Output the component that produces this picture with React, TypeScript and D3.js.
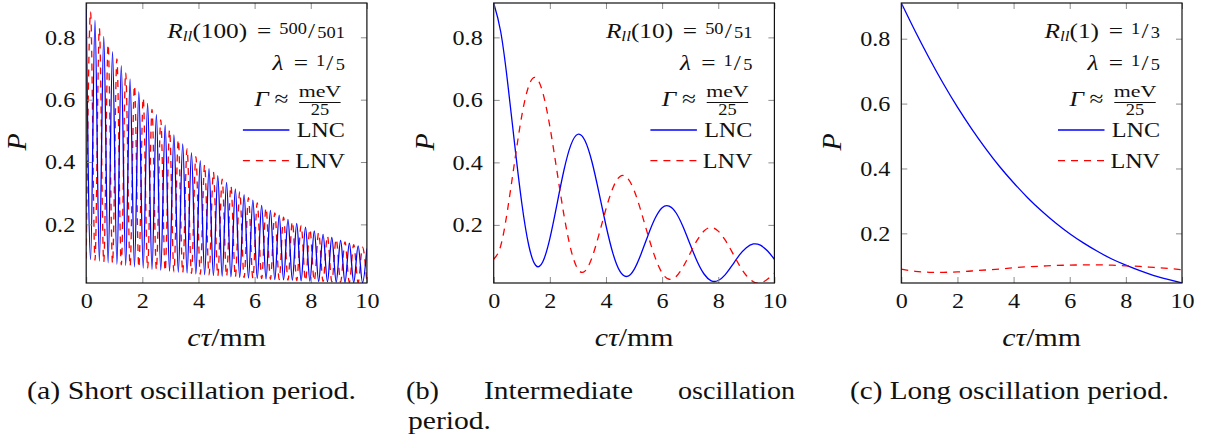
import { useEffect, useRef } from "react";
import * as d3 from "d3";

// ---- values ----
const xTicks = [0, 2, 4, 6, 8, 10];
const yTicks = [0.2, 0.4, 0.6, 0.8];

// (a) short period: turning points of the fast oscillation
const xA = [
  0, 0.156, 0.313, 0.469, 0.625, 0.781, 0.938, 1.094, 1.25, 1.406, 1.563,
  1.719, 1.875, 2.031, 2.188, 2.344, 2.5, 2.656, 2.813, 2.969, 3.125, 3.281,
  3.438, 3.594, 3.75, 3.906, 4.063, 4.219, 4.375, 4.531, 4.688, 4.844, 5.0,
  5.156, 5.313, 5.469, 5.625, 5.781, 5.938, 6.094, 6.25, 6.406, 6.563, 6.719,
  6.875, 7.031, 7.188, 7.344, 7.5, 7.656, 7.813, 7.969, 8.125, 8.281, 8.438,
  8.594, 8.75, 8.906, 9.063, 9.219, 9.375, 9.531, 9.688, 9.844, 10,
];
const lncA = [
  0.91, 0.087, 0.855, 0.082, 0.803, 0.077, 0.754, 0.072, 0.709, 0.068, 0.666,
  0.064, 0.625, 0.06, 0.588, 0.056, 0.552, 0.053, 0.518, 0.05, 0.487, 0.047,
  0.458, 0.044, 0.43, 0.041, 0.404, 0.039, 0.379, 0.036, 0.356, 0.034, 0.335,
  0.032, 0.314, 0.03, 0.295, 0.028, 0.278, 0.027, 0.261, 0.025, 0.245, 0.023,
  0.23, 0.022, 0.216, 0.021, 0.203, 0.019, 0.191, 0.018, 0.179, 0.017, 0.168,
  0.016, 0.158, 0.015, 0.149, 0.014, 0.14, 0.013, 0.131, 0.013, 0.123,
];
const lnvA = [
  0.09, 0.882, 0.085, 0.829, 0.079, 0.778, 0.075, 0.731, 0.07, 0.687, 0.066,
  0.645, 0.062, 0.606, 0.058, 0.569, 0.055, 0.535, 0.051, 0.503, 0.048, 0.472,
  0.045, 0.443, 0.043, 0.417, 0.04, 0.391, 0.038, 0.368, 0.035, 0.345, 0.033,
  0.324, 0.031, 0.305, 0.029, 0.286, 0.027, 0.269, 0.026, 0.253, 0.024, 0.237,
  0.023, 0.223, 0.021, 0.209, 0.02, 0.197, 0.019, 0.185, 0.018, 0.174, 0.017,
  0.163, 0.016, 0.153, 0.015, 0.144, 0.014, 0.135, 0.013, 0.127, 0.012,
];

// (b) intermediate period, every 0.25 mm
const xB = [
  0, 0.25, 0.5, 0.75, 1, 1.25, 1.5, 1.75, 2, 2.25, 2.5, 2.75, 3, 3.25, 3.5,
  3.75, 4, 4.25, 4.5, 4.75, 5, 5.25, 5.5, 5.75, 6, 6.25, 6.5, 6.75, 7, 7.25,
  7.5, 7.75, 8, 8.25, 8.5, 8.75, 9, 9.25, 9.5, 9.75, 10,
];
const lncB = [
  0.91, 0.818, 0.653, 0.455, 0.27, 0.134, 0.07, 0.082, 0.156, 0.264, 0.374,
  0.456, 0.49, 0.47, 0.402, 0.303, 0.198, 0.108, 0.051, 0.035, 0.057, 0.107,
  0.167, 0.221, 0.255, 0.26, 0.238, 0.193, 0.137, 0.083, 0.042, 0.021, 0.022,
  0.041, 0.071, 0.103, 0.127, 0.139, 0.135, 0.117, 0.09,
];
const lnvB = [
  0.09, 0.133, 0.252, 0.405, 0.549, 0.645, 0.671, 0.623, 0.515, 0.374, 0.233,
  0.121, 0.058, 0.052, 0.095, 0.169, 0.251, 0.319, 0.355, 0.351, 0.311, 0.243,
  0.166, 0.096, 0.046, 0.026, 0.035, 0.066, 0.109, 0.151, 0.181, 0.192, 0.18,
  0.151, 0.112, 0.071, 0.038, 0.018, 0.014, 0.026, 0.045,
];

// (c) long period, every 0.5 mm
const xC = [
  0, 0.5, 1, 1.5, 2, 2.5, 3, 3.5, 4, 4.5, 5, 5.5, 6, 6.5, 7, 7.5, 8, 8.5, 9,
  9.5, 10,
];
const lncC = [
  0.91, 0.822, 0.739, 0.661, 0.589, 0.523, 0.462, 0.406, 0.356, 0.31, 0.269,
  0.232, 0.199, 0.17, 0.144, 0.121, 0.102, 0.085, 0.07, 0.058, 0.047,
];
const lnvC = [
  0.09, 0.083, 0.08, 0.08, 0.081, 0.084, 0.087, 0.09, 0.094, 0.097, 0.099,
  0.101, 0.102, 0.103, 0.103, 0.102, 0.1, 0.098, 0.095, 0.092, 0.088,
];

const rArgs = ["100", "10", "1"];
const rNums = ["500", "50", "1"];
const rDens = ["501", "51", "3"];
const seriesNames = ["LNC", "LNV"];
const captions = [
  ["(a) Short oscillation period."],
  ["(b)", "Intermediate", "oscillation", "period."],
  ["(c) Long oscillation period."],
];

// ---- layout ----
const FONT = "'Liberation Serif', 'Times New Roman', serif";
const panelLeft = [86.2, 493.7, 901.3];
const plotW = 280.7;
const plotTop = 3;
const plotH = 280;
const blue = "#0000ff";
const red = "#ff0000";
const ink = "#111";
const tickColor = "#8c8c8c";
const sx = 1.15; // the reference glyphs are wider than Times

const panels = [
  { xs: xA, lnc: lncA, lnv: lnvA, curve: d3.curveMonotoneX, blueOnTop: true },
  { xs: xB, lnc: lncB, lnv: lnvB, curve: d3.curveNatural, blueOnTop: false },
  { xs: xC, lnc: lncC, lnv: lnvC, curve: d3.curveNatural, blueOnTop: false },
];

// small raised numerator, slash, small denominator
function nicefrac(text, num, den, dx) {
  text.append("tspan").attr("font-size", 16).attr("dx", dx).attr("dy", -4).text(num);
  text.append("tspan").attr("font-size", 22).attr("dx", 1).attr("dy", 4).text("/");
  text.append("tspan").attr("font-size", 16).attr("dx", 2).text(den);
}

function drawPanel(svg, p, i) {
  const g = svg
    .append("g")
    .attr("transform", `translate(${panelLeft[i]},${plotTop})`);

  const x = d3.scaleLinear().domain([0, 10]).range([0, plotW]);
  const y = d3
    .scaleLinear()
    .domain(d3.extent(p.lnc.concat(p.lnv)))
    .range([plotH, 0]);

  g.append("clipPath")
    .attr("id", "clip" + i)
    .append("rect")
    .attr("width", plotW)
    .attr("height", plotH);

  const line = d3
    .line()
    .x((d, k) => x(p.xs[k]))
    .y((d) => y(d))
    .curve(p.curve);

  const content = g.append("g").attr("clip-path", `url(#clip${i})`);
  const drawLnc = () =>
    content
      .append("path")
      .attr("d", line(p.lnc))
      .attr("fill", "none")
      .attr("stroke", blue)
      .attr("stroke-width", 1.3);
  const drawLnv = () =>
    content
      .append("path")
      .attr("d", line(p.lnv))
      .attr("fill", "none")
      .attr("stroke", red)
      .attr("stroke-width", 1.3)
      .attr("stroke-dasharray", "7 6");
  if (p.blueOnTop) {
    drawLnv();
    drawLnc();
  } else {
    drawLnc();
    drawLnv();
  }

  // axes, ticks pointing inwards on all four sides
  const styleAxis = (a) => {
    a.select(".domain").remove();
    a.selectAll(".tick line").attr("stroke", tickColor);
    a.attr("font-family", null).attr("font-size", 21);
    a.selectAll(".tick text").attr("fill", ink).attr("transform", `scale(${sx},1)`);
  };

  g.append("g")
    .attr("transform", `translate(0,${plotH})`)
    .call(d3.axisBottom(x).tickValues(xTicks).tickSizeInner(-6).tickSizeOuter(0).tickPadding(10))
    .call(styleAxis);
  g.append("g")
    .call(d3.axisTop(x).tickValues(xTicks).tickSizeInner(-6).tickSizeOuter(0).tickFormat(() => ""))
    .call(styleAxis);
  g.append("g")
    .call(
      d3.axisLeft(y).tickValues(yTicks).tickSizeInner(-6).tickSizeOuter(0).tickPadding(11 / sx)
        .tickFormat(d3.format(".1f"))
    )
    .call(styleAxis);
  g.append("g")
    .attr("transform", `translate(${plotW},0)`)
    .call(d3.axisRight(y).tickValues(yTicks).tickSizeInner(-6).tickSizeOuter(0).tickFormat(() => ""))
    .call(styleAxis);

  g.append("rect")
    .attr("width", plotW)
    .attr("height", plotH)
    .attr("fill", "none")
    .attr("stroke", ink)
    .attr("stroke-width", 1.2);

  // axis labels
  const xl = g
    .append("text")
    .attr("transform", `translate(${plotW / 2},343) scale(${sx},1)`)
    .attr("text-anchor", "middle")
    .attr("font-size", 26)
    .attr("fill", ink);
  xl.append("tspan").attr("font-style", "italic").text("cτ");
  xl.append("tspan").text("/mm");

  g.append("text")
    .attr("transform", `translate(-60,139) rotate(-90)`)
    .attr("text-anchor", "middle")
    .attr("font-size", 28)
    .attr("font-style", "italic")
    .attr("fill", ink)
    .text("P");

  // legend block, text right-aligned at xr
  const xr = plotW - 22;
  const leg = g
    .append("g")
    .attr("transform", `translate(${xr},0) scale(${sx},1)`)
    .attr("font-size", 22)
    .attr("fill", ink);

  const r = leg.append("text").attr("y", 35).attr("text-anchor", "end");
  r.append("tspan").attr("font-style", "italic").text("R");
  r.append("tspan").attr("font-style", "italic").attr("font-size", 15).attr("dy", 3.5).text("ll");
  r.append("tspan").attr("dy", -3.5).text(`(${rArgs[i]})`);
  r.append("tspan").attr("dx", 8.5).text("=");
  nicefrac(r, rNums[i], rDens[i], 7);

  const l = leg.append("text").attr("y", 67).attr("text-anchor", "end");
  l.append("tspan").attr("font-style", "italic").text("λ");
  l.append("tspan").attr("dx", 9).text("=");
  nicefrac(l, "1", "5", 7);

  const fx = -25 / sx;
  leg.append("text")
    .attr("x", fx - 18.5)
    .attr("y", 94)
    .attr("font-size", 16)
    .attr("textLength", 37)
    .attr("lengthAdjust", "spacingAndGlyphs")
    .text("meV");
  leg.append("line")
    .attr("x1", fx - 18).attr("x2", fx + 18)
    .attr("y1", 99.5).attr("y2", 99.5)
    .attr("stroke", ink).attr("stroke-width", 0.9);
  leg.append("text").attr("x", fx).attr("y", 112.5).attr("text-anchor", "middle").attr("font-size", 16).text("25");
  const gm = leg.append("text").attr("x", -56.5 / sx).attr("y", 103).attr("text-anchor", "end");
  gm.append("tspan").attr("font-style", "italic").text("Γ");
  gm.append("tspan").attr("dx", 5).text("≈");

  seriesNames.forEach((name, k) => {
    const yy = k === 0 ? 127 : 157.7;
    g.append("line")
      .attr("x1", plotW - 124).attr("x2", plotW - 77.5)
      .attr("y1", yy).attr("y2", yy)
      .attr("stroke", k === 0 ? blue : red)
      .attr("stroke-width", 1.3)
      .attr("stroke-dasharray", k === 0 ? null : "7 6");
    leg.append("text").attr("y", yy + 7).attr("text-anchor", "end").attr("font-size", 21).text(name);
  });
}

function drawCaptions(svg) {
  const cap = svg.append("g").attr("font-size", 26).attr("fill", ink);
  const put = (t, x, y, len) =>
    cap.append("text")
      .attr("x", x)
      .attr("y", y)
      .attr("textLength", len)
      .attr("lengthAdjust", "spacingAndGlyphs")
      .text(t);
  put(captions[0][0], 27, 398.5, 329);
  put(captions[1][0], 406, 398.5, 33);
  put(captions[1][1], 484, 398.5, 149);
  put(captions[1][2], 678, 398.5, 117);
  put(captions[1][3], 408, 428.5, 83);
  put(captions[2][0], 850, 398.5, 319);
}

export default function App() {
  const svgRef = useRef(null);

  useEffect(() => {
    const svg = d3.select(svgRef.current);
    svg.selectAll("*").remove();
    svg.style("white-space", "pre");
    panels.forEach((p, i) => drawPanel(svg, p, i));
    drawCaptions(svg);
  }, []);

  return (
    <svg
      ref={svgRef}
      width={1207}
      height={443}
      style={{ position: "absolute", left: 0, top: 0, background: "#fff", fontFamily: FONT }}
    />
  );
}
